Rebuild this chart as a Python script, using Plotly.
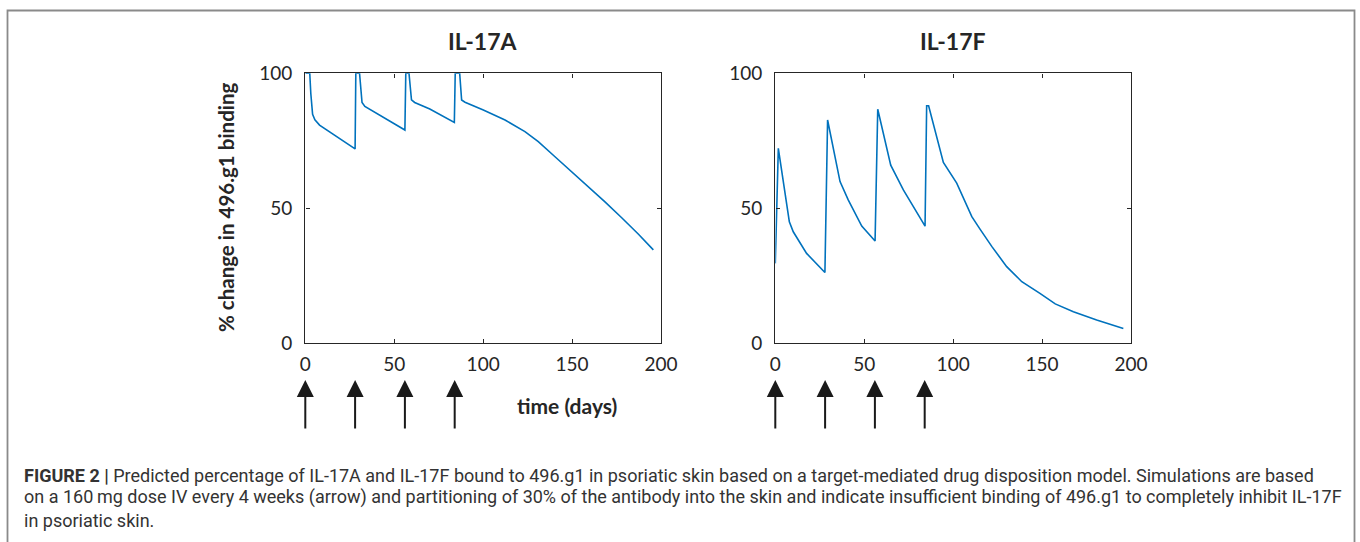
import plotly.graph_objects as go

# ---------------- data ----------------
days_a = [0, 2.5, 3.1, 4.1, 5.4, 8, 28, 28.4, 30.5, 31.9, 33.5, 56, 56.5, 58.3, 59.7, 61.5, 70, 83.8,
          84.3, 86.8, 87.9, 89.8, 100.1, 112.3, 123.5, 131, 140.4, 149.8, 159.1, 168.5, 177.9, 187.2, 195.7]
il17a = [100, 100, 92.5, 84.8, 82.8, 80.8, 72.0, 100, 100, 89.2, 87.7, 79.0, 100, 100, 90.2, 89.2, 86.8, 81.8,
         100, 100, 90.1, 89.3, 86.4, 82.7, 78.4, 74.7, 69.1, 63.6, 58.0, 52.4, 46.5, 40.5, 34.6]

days_f = [0, 1.7, 7.9, 10.1, 17.6, 27.9, 29.4, 36.4, 41, 48.6, 56.1, 57.6, 64.9, 72, 84.2, 85.1, 86.2,
          92.6, 94.5, 102, 110.5, 115.1, 121.8, 130.1, 138.6, 148.8, 157.4, 167.6, 180.7, 195.7]
il17f = [29.6, 72.2, 45.0, 41.3, 33.3, 26.2, 82.7, 59.9, 53.1, 43.4, 37.9, 86.7, 66.0, 56.8, 43.4, 88.0, 88.0,
         71.0, 67.0, 59.3, 46.9, 42.3, 35.8, 28.4, 22.8, 18.5, 14.6, 11.7, 8.6, 5.5]

dose_days = [0, 28, 56, 84]
titles = ["IL-17A", "IL-17F"]
x_ticks = [0, 50, 100, 150, 200]
y_ticks = [0, 50, 100]
y_label = "% change in 496.g1 binding"
x_label = "time (days)"
caption_lines = [
    "<b>FIGURE 2 |</b> Predicted percentage of IL-17A and IL-17F bound to 496.g1 in psoriatic skin based on a target-mediated drug disposition model. Simulations are based",
    "on a 160\u2009mg dose IV every 4 weeks (arrow) and partitioning of 30% of the antibody into the skin and indicate insufficient binding of 496.g1 to completely inhibit IL-17F",
    "in psoriatic skin.",
]

# ---------------- figure ----------------
W, H = 1360, 542
LINE = "#0072BD"
AX = "#262626"
FONT = "Lato"

fig = go.Figure()
fig.add_trace(go.Scatter(x=days_a, y=il17a, mode="lines", line=dict(color=LINE, width=1.6),
                         xaxis="x", yaxis="y", showlegend=False, hoverinfo="skip"))
fig.add_trace(go.Scatter(x=days_f, y=il17f, mode="lines", line=dict(color=LINE, width=1.6),
                         xaxis="x2", yaxis="y2", showlegend=False, hoverinfo="skip"))

def px(x):
    return x / W

def py(y):
    return 1 - y / H

ydom = [py(343.3), py(73.3)]
xdom1 = [px(305.3), px(661)]
xdom2 = [px(775.3), px(1131)]

common_x = dict(range=[0, 200], tickvals=x_ticks, ticks="inside", ticklen=4, tickwidth=1.3,
                tickcolor=AX, showline=True, linecolor=AX, linewidth=1.4, mirror="allticks",
                showgrid=False, zeroline=False, fixedrange=True, automargin=False,
                tickfont=dict(family=FONT, size=19, color=AX), ticklabelstandoff=4)
common_y = dict(range=[0, 100], tickvals=y_ticks, ticks="inside", ticklen=4, tickwidth=1.3,
                tickcolor=AX, showline=True, linecolor=AX, linewidth=1.4, mirror="allticks",
                showgrid=False, zeroline=False, fixedrange=True, automargin=False,
                tickfont=dict(family=FONT, size=19, color=AX), ticklabelstandoff=8)

fig.update_layout(
    width=W, height=H, margin=dict(l=0, r=0, t=0, b=0, autoexpand=False),
    paper_bgcolor="white", plot_bgcolor="white",
    xaxis=dict(domain=xdom1, anchor="y", **common_x),
    yaxis=dict(domain=ydom, anchor="x", **common_y),
    xaxis2=dict(domain=xdom2, anchor="y2", **common_x),
    yaxis2=dict(domain=ydom, anchor="x2", **common_y),
)

annotations = []
for i, (t, dom) in enumerate(zip(titles, [xdom1, xdom2])):
    annotations.append(dict(text=f"<b>{t}</b>", x=(dom[0] + dom[1]) / 2, y=py(41), xref="paper", yref="paper",
                            showarrow=False, xanchor="center", yanchor="middle",
                            font=dict(family=FONT, size=23, color=AX)))
annotations.append(dict(text=f"<b>{y_label}</b>", x=px(226), y=py(207), xref="paper", yref="paper",
                        showarrow=False, textangle=-90, xanchor="center", yanchor="middle",
                        font=dict(family=FONT, size=20.5, color=AX)))
annotations.append(dict(text=f"<b>{x_label}</b>", x=px(567), y=py(405), xref="paper", yref="paper",
                        showarrow=False, xanchor="center", yanchor="middle",
                        font=dict(family=FONT, size=21, color=AX)))
# dose arrows
for xr in ["x", "x2"]:
    for d in dose_days:
        annotations.append(dict(x=d, y=py(380), xref=xr, yref="paper", text="", showarrow=True,
                                ax=0, ay=50, axref="pixel", ayref="pixel",
                                arrowhead=2, arrowsize=1.7, arrowwidth=2, arrowcolor="#1a1a1a",
                                standoff=0, startstandoff=0))
# caption
for i, line in enumerate(caption_lines):
    annotations.append(dict(text=line, x=px(22), y=py(475 + i * 22.5), xref="paper", yref="paper",
                            showarrow=False, xanchor="left", yanchor="middle", align="left",
                            font=dict(family="Roboto", size=18, color="#333333")))
fig.update_layout(annotations=annotations)

# figure frame (top, left, right edges)
fig.add_shape(type="path", xref="paper", yref="paper",
              path=f"M {px(7.5)},0 L {px(7.5)},{py(10.5)} L {px(1354.5)},{py(10.5)} L {px(1354.5)},0",
              line=dict(color="#8a8a8a", width=1.8))

fig.write_html("out.html")
